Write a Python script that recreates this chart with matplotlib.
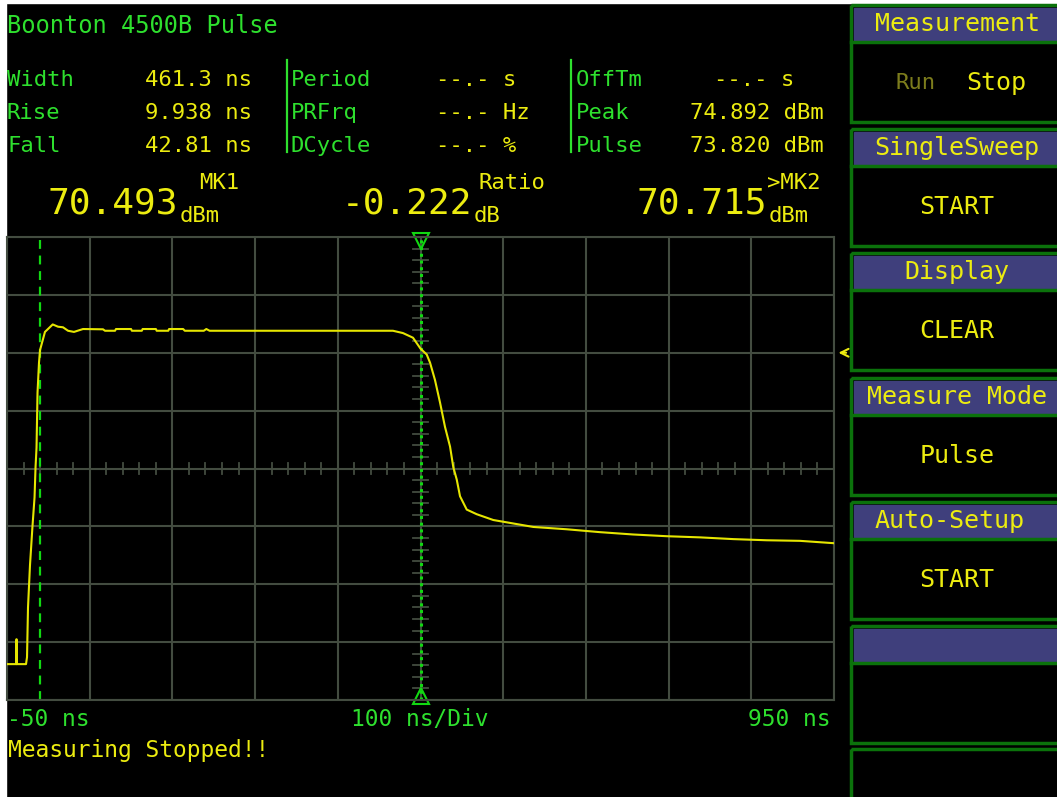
import matplotlib.pyplot as plt
from matplotlib.patches import Rectangle
import numpy as np

# Captured pulse trace (time in ns, power in dBm)
pulse_t = [-50.0, -38.6, -38.6, -38.4, -38.4, -27.0, -25.8, -24.6, -22.2, -19.2,
           -16.7, -15.5, -14.3, -13.1, -11.3, -10.0, -4.1, 5.3, 11.7, 17.7,
           23.8, 31.0, 41.9, 66.1, 68.5, 80.6, 81.8, 100.0, 101.0, 113.0,
           114.0, 130.0, 131.0, 145.0, 146.0, 163.0, 165.0, 188.0, 191.0, 195.0,
           416.7, 428.8, 440.9, 450.0, 457.5, 461.5, 467.5, 473.6, 479.6, 485.7,
           489.7, 493.8, 497.8, 505.9, 518.0, 538.0, 558.2, 586.4, 626.8, 667.1,
           706.9, 747.7, 788.0, 828.2, 868.6, 908.9, 949.2]
pulse_dbm = [16.2, 16.2, 20.5, 20.5, 16.2, 16.2, 17.4, 26.0, 33.3, 40.0,
             45.0, 50.2, 53.6, 63.1, 68.3, 70.493, 73.6, 74.892, 74.5, 74.4,
             73.8, 73.6, 74.1, 74.05, 73.8, 73.8, 74.1, 74.1, 73.8, 73.8,
             74.1, 74.1, 73.8, 73.8, 74.1, 74.1, 73.8, 73.8, 74.1, 73.8,
             73.8, 73.4, 72.6, 70.715, 69.7, 68.3, 65.3, 61.4, 57.2, 53.8,
             50.2, 48.1, 45.2, 42.9, 42.1, 41.1, 40.6, 39.9, 39.5, 39.0,
             38.6, 38.3, 38.1, 37.8, 37.6, 37.5, 37.1]

# Markers and trigger level
mk1_t, mk1_val = -10.0, 70.493
mk2_t, mk2_val = 450.0, 70.715
ratio_db = mk1_val - mk2_val
trig_level = 70.0

# Screen settings
t_start, t_div = -50, 100
n_xdiv, n_ydiv = 10, 8
v_bottom, v_div = 10, 10

# Measurement table
meas_rows = [
    ("Width", "461.3 ns", "Period", "--.- s", "OffTm", "--.- s"),
    ("Rise", "9.938 ns", "PRFrq", "--.- Hz", "Peak", "74.892 dBm"),
    ("Fall", "42.81 ns", "DCycle", "--.- %", "Pulse", "73.820 dBm"),
]

# Soft key menu: (header, body)
menu_keys = [("Measurement", None), ("SingleSweep", "START"), ("Display", "CLEAR"),
             ("Measure Mode", "Pulse"), ("Auto-Setup", "START"), ("", "")]

GREEN = '#2ee02e'
YELLOW = '#ecec10'
GRID = '#434c40'
MARK = '#12d812'
KEY_BLUE = '#3f3f7c'
KEY_EDGE = '#0b720b'
MONO = 'DejaVu Sans Mono'

W, H = 1057, 797
fig = plt.figure(figsize=(W / 100, H / 100), dpi=100, facecolor='black')

# Full-screen overlay in pixel units for the readouts and soft keys
ui = fig.add_axes([0, 0, 1, 1])
ui.set_xlim(0, W)
ui.set_ylim(H, 0)
ui.axis('off')
ui.add_patch(Rectangle((0, 0), W, 3, color='white'))
ui.add_patch(Rectangle((0, 0), 5.5, H, color='white'))

ui.text(7, 33, "Boonton 4500B Pulse", color=GREEN, fontsize=17, family=MONO, va='baseline')

for i, (l1, v1, l2, v2, l3, v3) in enumerate(meas_rows):
    yb = 86 + 33 * i
    ui.text(7, yb, l1, color=GREEN, fontsize=16, family=MONO, va='baseline')
    ui.text(252, yb, v1, color=YELLOW, fontsize=16, family=MONO, va='baseline', ha='right')
    ui.text(291, yb, l2, color=GREEN, fontsize=16, family=MONO, va='baseline')
    ui.text(436, yb, v2, color=YELLOW, fontsize=16, family=MONO, va='baseline')
    ui.text(576, yb, l3, color=GREEN, fontsize=16, family=MONO, va='baseline')
    if v3.startswith("--"):
        ui.text(714, yb, v3, color=YELLOW, fontsize=16, family=MONO, va='baseline')
    else:
        ui.text(824, yb, v3, color=YELLOW, fontsize=16, family=MONO, va='baseline', ha='right')
for xb in (287, 571):
    ui.plot([xb, xb], [60, 152], color=GREEN, lw=1.6)

# Marker readouts
readouts = [(178, f"{mk1_val:.3f}", "MK1", "dBm", 199),
            (472, f"{ratio_db:.3f}", "Ratio", "dB", 478),
            (767, f"{mk2_val:.3f}", ">MK2", "dBm", 767)]
for xr, val, tag, unit, xt in readouts:
    ui.text(xr, 213, val, color=YELLOW, fontsize=26, family=MONO, va='baseline', ha='right')
    ui.text(xt, 189, tag, color=YELLOW, fontsize=16, family=MONO, va='baseline')
    ui.text(xr + 2, 222, unit, color=YELLOW, fontsize=16, family=MONO, va='baseline')

# Soft keys
for k, (head, body) in enumerate(menu_keys):
    top = 5 + 124.2 * k
    ui.add_patch(Rectangle((851, top), 215, 117, fill=False, ec=KEY_EDGE, lw=2.5))
    ui.add_patch(Rectangle((853.5, top + 3), 210, 32.5, color=KEY_BLUE))
    ui.plot([851, W], [top + 37, top + 37], color=KEY_EDGE, lw=2.5)
    hx = 950 if head == "Auto-Setup" else 957
    ui.text(hx, top + 19, head, color=YELLOW, fontsize=18, family=MONO, ha='center', va='center')
    if body:
        ui.text(957, top + 78, body, color=YELLOW, fontsize=18, family=MONO, ha='center', va='center')
ui.add_patch(Rectangle((851, 749), 215, 60, fill=False, ec=KEY_EDGE, lw=2.5))
ui.text(916, 83, "Run", color='#7c7c1c', fontsize=16, family=MONO, ha='center', va='center')
ui.text(996, 83, "Stop", color=YELLOW, fontsize=18, family=MONO, ha='center', va='center')

# Bottom annotations
ui.text(7, 719, f"{t_start} ns", color=GREEN, fontsize=16.5, family=MONO, va='center')
ui.text(420, 719, f"{t_div} ns/Div", color=GREEN, fontsize=16.5, family=MONO, va='center', ha='center')
ui.text(831, 719, f"{t_start + n_xdiv * t_div} ns", color=GREEN, fontsize=16.5, family=MONO,
        va='center', ha='right')
ui.text(8, 750, "Measuring Stopped!!", color=YELLOW, fontsize=16.5, family=MONO, va='center')

# Scope graticule
ax = fig.add_axes([7 / W, (H - 700) / H, 827 / W, 463 / H])
ax.set_facecolor('black')
t_end = t_start + n_xdiv * t_div
v_top = v_bottom + n_ydiv * v_div
ax.set_xlim(t_start, t_end)
ax.set_ylim(v_bottom, v_top)
ax.set_xticks(np.arange(t_start, t_end + 1, t_div))
ax.set_yticks(np.arange(v_bottom, v_top + 1, v_div))
ax.grid(True, color=GRID, lw=1.5)
ax.tick_params(length=0, labelbottom=False, labelleft=False)
for s in ax.spines.values():
    s.set_color(GRID)
    s.set_linewidth(1.5)

t_mid = (t_start + t_end) / 2
v_mid = (v_bottom + v_top) / 2
for tx in np.arange(t_start, t_end, t_div / 5):
    ax.plot([tx, tx], [v_mid - 0.9, v_mid + 0.9], color=GRID, lw=1.3)
for vy in np.arange(v_bottom, v_top, v_div / 5):
    ax.plot([t_mid - 9, t_mid + 9], [vy, vy], color=GRID, lw=1.3)

# Markers
ax.axvline(mk1_t, color=MARK, lw=1.6, ls=(0, (4, 3)))
ax.axvline(mk2_t, color=MARK, lw=2.2, ls=(0, (1, 1.2)))
ax.plot([mk2_t], [v_top - 0.75], marker='v', ms=11, mfc='none', mec=MARK, mew=1.5, clip_on=False)
ax.plot([mk2_t], [v_bottom + 0.75], marker='^', ms=11, mfc='none', mec=MARK, mew=1.5, clip_on=False)

# Trace
ax.plot(pulse_t, pulse_dbm, color='#e6e600', lw=1.5, zorder=5)

# Trigger level indicator
ax.annotate('', xy=(t_end + 2, trig_level), xytext=(t_end + 18, trig_level),
            arrowprops=dict(arrowstyle='->', color=YELLOW, lw=1.5, mutation_scale=14),
            annotation_clip=False)

fig.savefig('out.png', dpi=100, facecolor='black')
